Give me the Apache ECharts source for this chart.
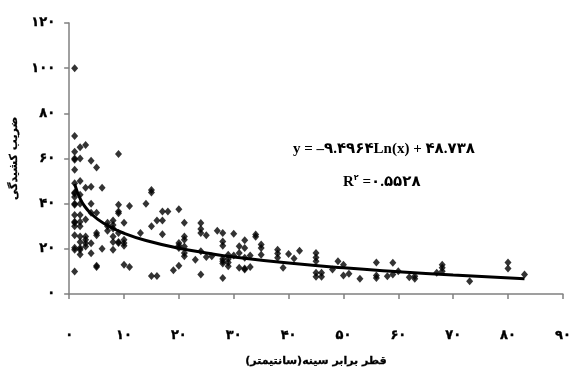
<!DOCTYPE html>
<html>
<head>
<meta charset="utf-8">
<script src="https://cdn.jsdelivr.net/npm/echarts@6/dist/echarts.min.js"></script>
<style>
  html, body { margin: 0; padding: 0; background: #fff; }
  #chart { width: 574px; height: 374px; }
</style>
</head>
<body>
<div id="chart"></div>
<script>
// diameter at breast height (cm) / taper ratio
const dbh = [
  1, 1, 1, 1, 1, 1, 1, 1, 1, 1, 1, 1, 1, 1, 1, 1, 1, 1, 1, 1,
  2, 2, 2, 2, 2, 2, 2, 2, 2, 2, 2, 2, 2,
  3, 3, 3, 3, 3, 3, 3,
  4, 4, 4, 4, 4, 4,
  5, 5, 5, 5, 5, 5,
  6, 6,
  7, 7, 7,
  8, 8, 8, 8, 8, 8,
  9, 9, 9, 9, 9, 9, 9,
  10, 10, 10, 10, 10,
  11, 11,
  13, 14,
  15, 15, 15, 15,
  16, 16,
  17, 17, 17,
  18, 19,
  20, 20, 20, 20, 20,
  21, 21, 21, 21, 21, 21,
  23,
  24, 24, 24, 24, 24,
  25, 25, 26, 27,
  28, 28, 28, 28, 28, 28, 28,
  29, 29, 29, 29,
  30, 30,
  31, 31, 31,
  32, 32, 32, 32, 32,
  33, 33,
  34, 34,
  35, 35, 35,
  38, 38, 38,
  39, 40, 41, 42,
  45, 45, 45, 45, 45,
  46, 46,
  48, 49,
  50, 50,
  51, 53,
  56, 56, 56,
  58,
  59, 59,
  60, 62,
  63, 63,
  67,
  68, 68, 68,
  73,
  80, 80,
  83
];
const ratio = [
  100, 70, 63, 60, 59.5, 55, 49, 45, 44.5, 43, 40, 39.5, 35, 32, 31.5, 30, 26, 20.5, 19.6, 10,
  65, 60, 50, 44, 40, 35, 32, 30, 25.5, 23, 20.4, 19.6, 17.5,
  66, 47, 33, 25.5, 24, 22.5, 21,
  59, 47.5, 40, 36, 22.5, 18,
  56, 36, 27, 26, 12.5, 12,
  47, 20,
  31.5, 30, 28,
  32.5, 30.5, 29, 25.5, 23, 19.6,
  62, 39.5, 36.5, 35.8, 27, 23, 22.6,
  31.5, 24, 22.6, 21.4, 13,
  39, 12,
  27, 40,
  46, 45, 30, 8,
  32.5, 8,
  36.5, 32.5, 26.5,
  36.5, 10.5,
  37.5, 22.6, 21.5, 20.4, 12.5,
  31.5, 25.5, 24, 21, 18.2, 16.7,
  15.2,
  31.4, 28.8, 27, 18.9, 8.6,
  26, 16.4, 16.7, 28,
  27, 23.3, 21.4, 15.5, 14.5, 13.5, 7.1,
  17.4, 15.5, 14, 12.3,
  26.7, 17,
  21.1, 18.2, 11.6,
  23.8, 20.4, 16, 11.3, 10.8,
  17.1, 12,
  26.3, 25.3,
  21.9, 20.4, 17.4,
  19.6, 17.9, 16,
  11.6, 17.7, 15.7, 19.2,
  18.2, 16.2, 14.5, 9.4, 7.6,
  9.4, 7.6,
  10.8, 14.5,
  13, 8.2,
  9, 6.7,
  14, 8.2, 7.1,
  7.9,
  13.8, 8.6,
  10.1, 7.4,
  7.9, 6.8,
  9.4,
  13, 11.6, 10.1,
  5.7,
  14, 11.3,
  8.6
];

// trend curve
const trendX = [1, 2, 3, 4, 5, 7, 10, 14, 20, 25, 30, 40, 50, 60, 70, 83];
const trendY = [48.7, 42.2, 38.3, 35.6, 33.5, 30.3, 26.9, 23.7, 20.3, 18.2, 16.4, 13.7, 11.6, 9.9, 8.4, 6.8];

const xTickLabels = ['۰', '۱۰', '۲۰', '۳۰', '۴۰', '۵۰', '۶۰', '۷۰', '۸۰', '۹۰'];
const yTickLabels = ['۰', '۲۰', '۴۰', '۶۰', '۸۰', '۱۰۰', '۱۲۰'];

const serif = "'Liberation Serif', 'DejaVu Sans'";
const sans = "'DejaVu Sans'";

const chart = echarts.init(document.getElementById('chart'), null, { renderer: 'canvas' });

const grey = { color: '#808080', width: 1.5 };
// heavier digits, the original uses a very bold face
const heavy = { color: '#000', fontFamily: sans, fontWeight: 'bold', fontSize: 13, textBorderColor: '#000', textBorderWidth: 0.35 };

chart.setOption({
  animation: false,
  grid: { left: 68, right: 6, top: 23, bottom: 80 },
  xAxis: {
    type: 'value', min: 0, max: 90, interval: 10,
    name: '\u200Fقطر برابر سینه(سانتیمتر)\u200F',
    nameLocation: 'middle', nameGap: 62,
    nameTextStyle: { fontFamily: sans, fontWeight: 'bold', fontSize: 11, color: '#000', textBorderColor: '#000', textBorderWidth: 0.3 },
    axisLine: { lineStyle: grey },
    axisTick: { length: 5, lineStyle: grey },
    splitLine: { show: false },
    axisLabel: Object.assign({ margin: 35, formatter: v => xTickLabels[Math.round(v / 10)] }, heavy)
  },
  yAxis: {
    type: 'value', min: 0, max: 120, interval: 20,
    name: 'ضریب کشیدگی',
    nameLocation: 'middle', nameRotate: 90, nameGap: 50,
    nameTextStyle: { fontFamily: sans, fontWeight: 'bold', fontSize: 11, color: '#000', textBorderColor: '#000', textBorderWidth: 0.3 },
    axisLine: { show: true, lineStyle: grey },
    axisTick: { show: true, length: 5, lineStyle: grey },
    splitLine: { show: false },
    axisLabel: Object.assign({ margin: 14, formatter: v => yTickLabels[Math.round(v / 20)] }, heavy)
  },
  graphic: [
    {
      type: 'text', left: 293, top: 142,
      style: {
        text: 'y = –۹.۴۹۶۴Ln(x) + ۴۸.۷۳۸',
        font: "bold 15px " + serif, fill: '#000'
      }
    },
    {
      type: 'text', left: 343, top: 174,
      style: {
        text: '{b|R}{s|۲}{b| =۰.۵۵۲۸}',
        rich: {
          b: { font: "bold 15px " + serif, fill: '#000', verticalAlign: 'bottom' },
          s: { font: "bold 8px " + sans, fill: '#000', verticalAlign: 'top', padding: [0, 0, 8, 0] }
        }
      }
    }
  ],
  series: [
    {
      type: 'scatter',
      symbol: 'diamond',
      symbolSize: [7, 8],
      itemStyle: { color: '#000' },
      data: dbh.map((d, i) => [d, ratio[i]])
    },
    {
      type: 'line',
      smooth: true,
      showSymbol: false,
      lineStyle: { color: '#000', width: 3 },
      data: trendX.map((d, i) => [d, trendY[i]])
    }
  ]
});
</script>
</body>
</html>
